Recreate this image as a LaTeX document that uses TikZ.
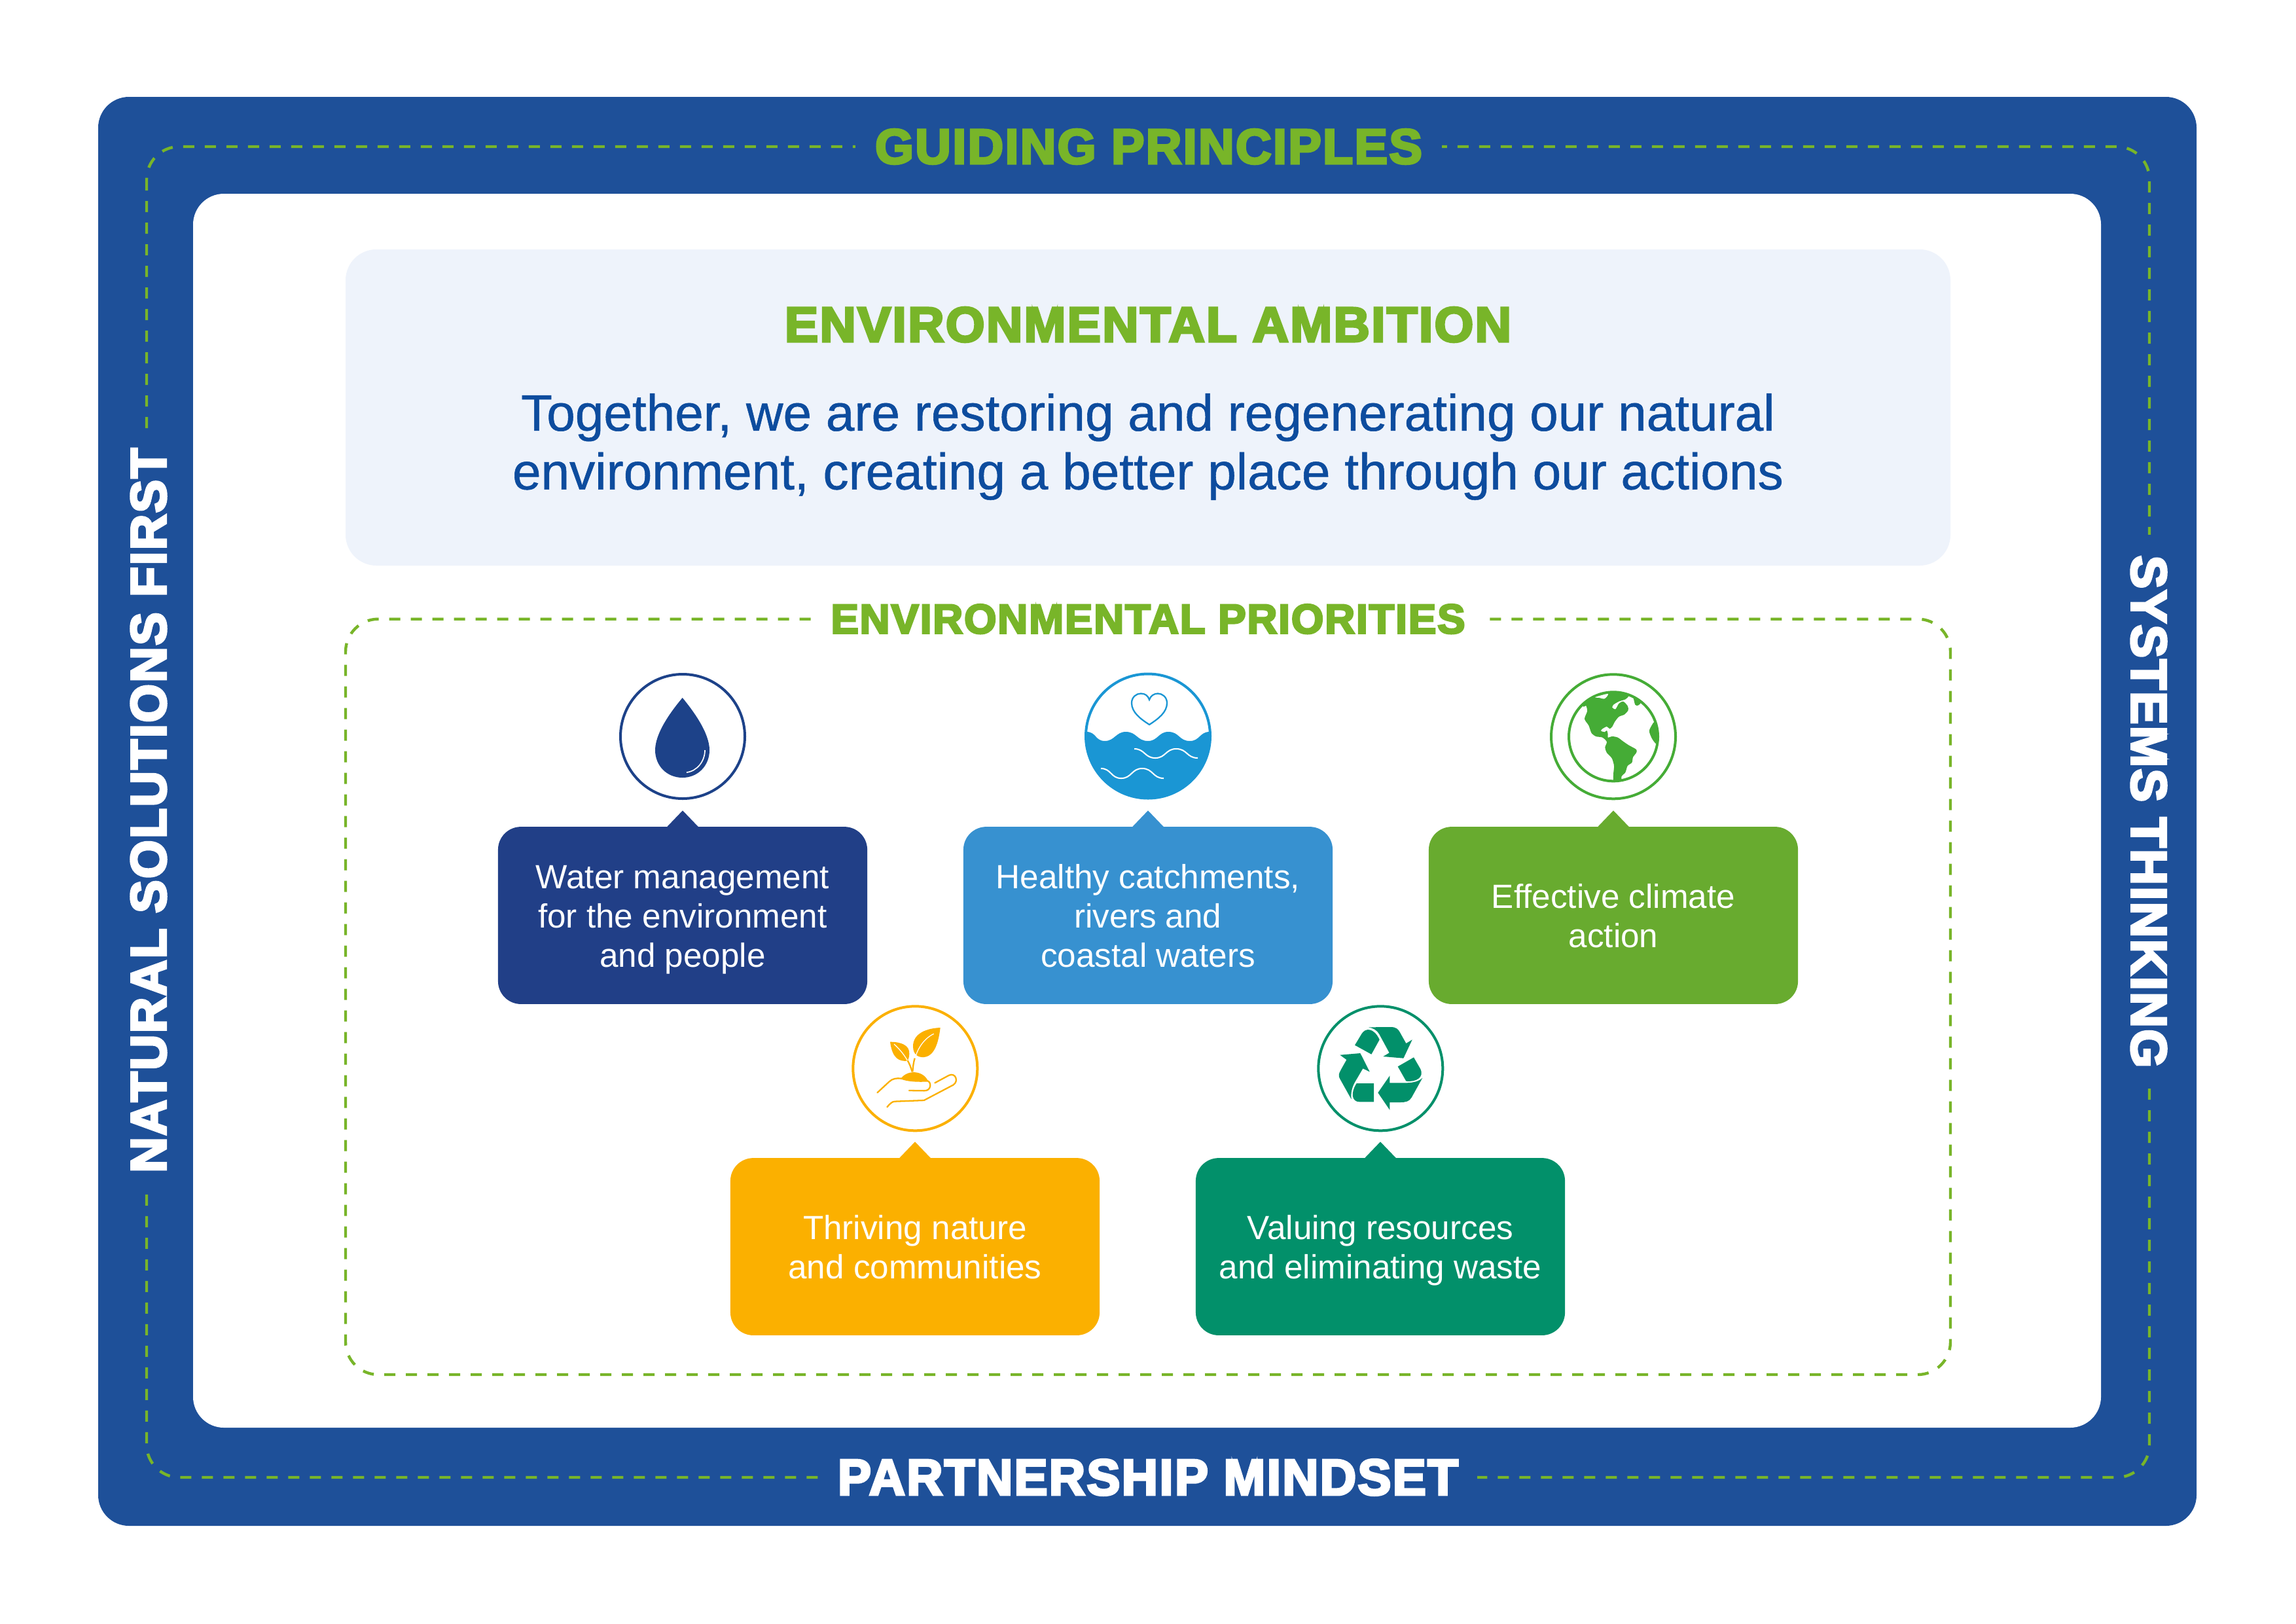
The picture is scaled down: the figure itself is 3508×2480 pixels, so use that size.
\documentclass[tikz,border=0pt]{standalone}
\usepackage{graphicx}
\usepackage{fontspec}
\setmainfont{Liberation Sans}
\newfontfamily\heavyf[BoldFont={Liberation Sans Bold},BoldFeatures={FakeBold=4.5,LetterSpace=3}]{Liberation Sans}
\newfontfamily\medf[FakeBold=0.7]{Liberation Sans}
\newcommand{\heading}[3]{\resizebox{#1pt}{#2pt}{\heavyf\bfseries #3}}
\newcommand{\lowl}{\rule{0pt}{12.3pt}}
\newcommand{\dnl}{\rule[-3pt]{0pt}{3pt}}
\definecolor{framecol}{HTML}{1E5099}
\definecolor{greencol}{HTML}{78B529}
\definecolor{panelcol}{HTML}{EEF3FB}
\definecolor{leadcol}{HTML}{0D4C9E}
\definecolor{boxa}{HTML}{213F87}
\definecolor{boxb}{HTML}{3791D0}
\definecolor{boxc}{HTML}{68AB2F}
\definecolor{boxd}{HTML}{FBB000}
\definecolor{boxe}{HTML}{02906A}
\definecolor{icona}{HTML}{1D4289}
\definecolor{iconb}{HTML}{1A96D4}
\definecolor{iconc}{HTML}{45AC36}
\tikzset{
  panel/.style={rounded corners=11.3pt},
  greendash/.style={draw=greencol,line width=1.05pt,dash pattern=on 4.08pt off 3.84pt,rounded corners=12pt},
  headnode/.style={inner ysep=0pt,text=greencol},
  prio/.style={rounded corners=8.4pt,minimum width=135.4pt,minimum height=65pt,inner sep=0pt,
    text=white,align=center,font=\fontsize{12.3}{14.4}\selectfont},
  badge/.style={circle,draw,fill=white,line width=0.96pt,minimum size=45.6pt,inner sep=0pt},
}
\newcommand{\pin}[2]{\fill[#2] ([shift={(-24,1)}]#1.north) -- ([shift={(0,-24)}]#1.north) -- ([shift={(24,1)}]#1.north) -- cycle;}
\begin{document}
\begin{tikzpicture}[x=0.24pt,y=-0.24pt]
\useasboundingbox (0,0) rectangle (3508,2480);
% frame
\fill[framecol,panel] (150,148) rectangle (3356,2331);
\path[greendash] (224,224) rectangle (3284,2257);
\fill[white,panel] (295,296) rectangle (3210,2181);
% frame headings
\node (guiding) [headnode,fill=framecol,inner xsep=7.3pt] at (1755,224) {\heading{200.6}{12.6}{GUIDING PRINCIPLES}};
\node (partner) [headnode,fill=framecol,inner xsep=7pt,text=white] at (1754,2257) {\heading{227.5}{13}{PARTNERSHIP MINDSET}};
\node (natural) [headnode,fill=framecol,inner xsep=5.9pt,text=white,rotate=90] at (227,1238) {\heading{265.7}{12.8}{NATURAL SOLUTIONS FIRST}};
\node (systems) [headnode,fill=framecol,inner xsep=7.6pt,text=white,rotate=-90] at (3283,1240) {\heading{187.9}{12.8}{SYSTEMS THINKING}};
% ambition panel
\fill[panelcol,panel] (528,381) rectangle (2980,864);
\node (ambition) [headnode] at (1754,496) {\heading{266.4}{12.6}{ENVIRONMENTAL AMBITION}};
\node (lead) [inner sep=0pt,align=center,text=leadcol,font=\medf\fontsize{18.8}{21.5}\selectfont] at (1754,682.5) {Together, we are restoring and regenerating our natural\\environment, creating a better place through our actions};
% priorities
\node (priorities) [headnode,inner xsep=7.2pt] at (1754,945.7) {\heading{232.6}{10.6}{ENVIRONMENTAL PRIORITIES}};
\draw[greendash] (priorities.west) -- (528,945.7) -- (528,2100) -- (2980,2100) -- (2980,945.7) -- (priorities.east);
% boxes
\node (b1) [prio,fill=boxa] at (1043,1398.5) {\lowl Water management\\for the environment\\and people\dnl};
\node (b2) [prio,fill=boxb] at (1754,1398.5) {\lowl Healthy catchments,\\rivers and\\coastal waters\dnl};
\node (b3) [prio,fill=boxc] at (2465,1398.5) {\lowl Effective climate\\action\dnl};
\node (b4) [prio,fill=boxd] at (1398,1904.5) {\lowl Thriving nature\\and communities\dnl};
\node (b5) [prio,fill=boxe] at (2109,1904.5) {\lowl Valuing resources\\and eliminating waste\dnl};
\pin{b1}{boxa}\pin{b2}{boxb}\pin{b3}{boxc}\pin{b4}{boxd}\pin{b5}{boxe}
% badges
\node (c1) [badge,draw=icona] at (1043,1125) {};
\node (c2) [badge,draw=iconb] at (1754,1124.5) {};
\node (c3) [badge,draw=iconc] at (2465,1125.3) {};
\node (c4) [badge,draw=boxd] at (1398.3,1632.3) {};
\node (c5) [badge,draw=boxe] at (2109.3,1632.3) {};
% drop
\fill[icona] (1042.7,1066) .. controls (1060,1087) and (1084,1120) .. (1084,1146)
  .. controls (1084,1170) and (1066,1188) .. (1042.7,1188)
  .. controls (1019,1188) and (1001,1170) .. (1001,1146)
  .. controls (1001,1120) and (1025,1087) .. (1042.7,1066) -- cycle;
\draw[white,line width=0.4pt] (1077,1146) .. controls (1077,1163) and (1065,1178) .. (1049,1180);
% water
\begin{scope}
\clip (1754,1124.5) circle (96);
\fill[iconb] (1655,1118) -- (1660,1118) .. controls (1675,1118) and (1673,1132) .. (1688,1132)
  .. controls (1703,1132) and (1705,1118) .. (1720,1118)
  .. controls (1737,1118) and (1737,1132) .. (1754,1132)
  .. controls (1769,1132) and (1770,1118) .. (1785,1118)
  .. controls (1802,1118) and (1801,1132) .. (1818,1132)
  .. controls (1833,1132) and (1833,1118) .. (1848,1118) -- (1855,1118) -- (1855,1225) -- (1655,1225) -- cycle;
\end{scope}
\draw[white,line width=0.5pt] (1733,1144) .. controls (1749,1144) and (1749,1158) .. (1765,1158)
  .. controls (1781,1158) and (1781,1144) .. (1797,1144)
  .. controls (1814,1144) and (1813,1158) .. (1830,1158);
\draw[white,line width=0.5pt] (1682,1174) .. controls (1698,1174) and (1697,1189) .. (1713,1189)
  .. controls (1729,1189) and (1729,1174) .. (1745,1174)
  .. controls (1762,1174) and (1761,1189) .. (1778,1189);
\draw[iconb,line width=0.55pt,line join=miter] (1756,1107) .. controls (1742,1098) and (1729,1088) .. (1729,1074)
  .. controls (1729,1065) and (1736,1059.5) .. (1743,1059.5)
  .. controls (1750,1059.5) and (1754,1063) .. (1756,1069)
  .. controls (1758,1063) and (1763,1059.5) .. (1769,1059.5)
  .. controls (1776,1059.5) and (1783,1065) .. (1783,1074)
  .. controls (1783,1088) and (1770,1098) .. (1756,1107) -- cycle;
% globe
\draw[iconc,line width=0.96pt] (2465,1125.3) circle (68);
\begin{scope}
\clip (2465,1125.3) circle (68);
\begin{scope}[shift={(2340,1010)},scale=1/3]
\fill[iconc] plot[smooth cycle,tension=0.45] coordinates {
 (235,205) (240,120) (375,110) (450,130) (445,160) (430,175) (400,185) (375,200) (370,213) (385,220) (400,195) (420,185) (440,205) (443,225) (425,245) (400,255) (380,280) (370,300) (358,310) (345,300) (325,310) (318,320) (335,325) (345,318) (350,335) (350,350) (370,345) (395,350) (420,368) (445,385) (480,405) (480,420) (465,440) (460,465) (440,480) (430,510) (412,530) (412,570) (377,570) (375,520) (378,480) (368,445) (345,420) (337,395) (345,370) (325,350) (295,345) (275,330) (262,295) (243,265) (255,230) (250,205)};
\fill[white] plot[smooth cycle,tension=0.5] coordinates {(292,165) (350,150) (335,172) (310,168)};
\fill[iconc] plot[smooth cycle,tension=0.5] coordinates {(445,150) (465,165) (475,200) (490,202) (505,180) (480,140)};
\fill[iconc] plot[smooth cycle,tension=0.5] coordinates {(570,275) (545,305) (540,325) (555,360) (578,380) (610,330)};
\end{scope}
\end{scope}
% sapling
\begin{scope}[shift={(1280,1520)},scale=1/3]
\fill[boxd] (470,150) .. controls (410,152) and (345,175) .. (345,235)
  .. controls (345,275) and (370,287) .. (395,285) .. controls (445,280) and (462,215) .. (470,150) -- cycle;
\draw[white,line width=0.3pt] (440,178) .. controls (395,200) and (365,245) .. (353,295);
\fill[boxd] (240,215) .. controls (290,215) and (330,230) .. (328,270)
  .. controls (327,285) and (325,295) .. (318,302) .. controls (285,305) and (250,295) .. (240,215) -- cycle;
\draw[white,line width=0.3pt] (258,225) .. controls (285,250) and (305,275) .. (320,302);
\draw[boxd,line width=0.55pt] (343,352) .. controls (345,325) and (348,305) .. (353,290);
\draw[boxd,line width=0.55pt] (341,352) .. controls (335,330) and (328,315) .. (320,300);
\fill[boxd] (290,382) .. controls (320,342) and (390,345) .. (413,393) .. controls (370,398) and (325,395) .. (290,382) -- cycle;
\draw[boxd,line width=0.55pt,line cap=round] (181,448) -- (235,398) .. controls (250,383) and (270,380) .. (292,383)
  .. controls (325,395) and (370,396) .. (412,394) .. controls (430,400) and (430,440) .. (395,439) -- (327,438);
\draw[boxd,line width=0.55pt,line cap=round] (226,514) .. controls (240,497) and (250,488) .. (262,488) -- (395,483) -- (530,412)
  .. controls (555,395) and (540,355) .. (510,368) -- (445,403);
\end{scope}
% recycling
\begin{scope}[shift={(1990,1520)},scale=1/3]
\fill[boxe] (303,148) -- (405,147) .. controls (430,147) and (440,158) .. (447,172) -- (475,222) -- (503,205) -- (463,290) -- (370,282) -- (398,265) -- (352,180) .. controls (342,162) and (325,152) .. (303,148) -- cycle;
\fill[boxe] (240,230) -- (270,180) .. controls (288,148) and (328,150) .. (353,205) -- (316,272) -- cycle;
\fill[boxe] (172,275) -- (265,267) -- (308,352) -- (277,337) -- (240,400) .. controls (225,428) and (221,450) .. (224,478) -- (172,385) .. controls (164,372) and (166,360) .. (175,345) -- (202,297) -- cycle;
\fill[boxe] (327,405) -- (327,490) -- (262,490) .. controls (225,490) and (220,448) .. (248,405) -- cycle;
\fill[boxe] (400,370) -- (400,403) -- (470,403) .. controls (510,403) and (535,395) .. (550,380) -- (500,470) .. controls (490,488) and (472,492) .. (450,492) -- (400,492) -- (400,527) -- (346,448) -- cycle;
\fill[boxe] (437,328) -- (510,286) -- (540,338) .. controls (560,378) and (520,400) .. (475,395) -- cycle;
\end{scope}
\end{tikzpicture}
\end{document}
